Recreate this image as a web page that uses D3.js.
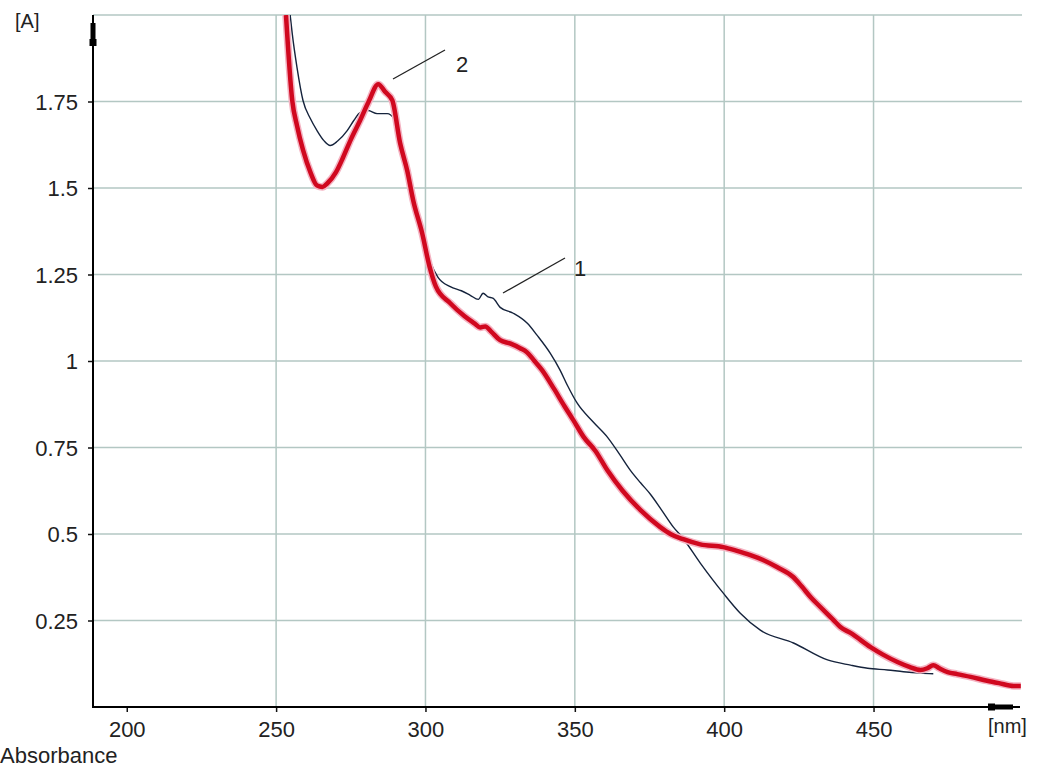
<!DOCTYPE html>
<html>
<head>
<meta charset="utf-8">
<script src="https://cdn.jsdelivr.net/npm/d3@7"></script>
<style>
  body { margin: 0; background: #fff; }
  text { font-family: "Liberation Sans", Arial, sans-serif; fill: #222; }
</style>
</head>
<body>
<svg width="1039" height="769"></svg>
<script>
const svg = d3.select("svg");

// Axis ticks
const xTicks = [200, 250, 300, 350, 400, 450];
const xGrid = [250, 300, 350, 400, 450];
const yTicks = [0.25, 0.5, 0.75, 1, 1.25, 1.5, 1.75];
const yTickLabels = ["0.25", "0.5", "0.75", "1", "1.25", "1.5", "1.75"];

// Spectrum 1 (thin dark line): wavelength [nm], absorbance
const nm1 = [254.7, 255.4, 257, 259, 261.5, 263.7, 266, 268.1, 270.5, 273.8, 276, 278.1, 280.8, 283.8, 287.2,
  289.5, 292, 294.5, 296.5, 299, 301.5, 304.2, 308.3, 312, 315, 317.7, 319.3, 320.8, 322.7, 325, 329.4, 334.1,
  337.4, 341.8, 345.1, 347.5, 350.8, 356, 360.9, 365, 368.6, 372, 375.3, 379, 383, 386, 392, 399.7, 405.4,
  412.1, 423.2, 434.6, 442.3, 448, 454.7, 460, 465.7, 470];
const abs1 = [2.0, 1.946, 1.848, 1.753, 1.70, 1.666, 1.637, 1.623, 1.635, 1.666, 1.695, 1.718, 1.724, 1.715, 1.715,
  1.70, 1.61, 1.53, 1.45, 1.36, 1.29, 1.242, 1.215, 1.203, 1.19, 1.178, 1.196, 1.186, 1.181, 1.155, 1.138, 1.109,
  1.074, 1.022, 0.973, 0.93, 0.878, 0.825, 0.78, 0.73, 0.684, 0.648, 0.615, 0.57, 0.52, 0.49, 0.416, 0.329, 0.271,
  0.222, 0.185, 0.136, 0.121, 0.112, 0.107, 0.102, 0.098, 0.096];

// Spectrum 2 (thick red line)
const nm2 = [253.3, 255.4, 257, 259, 261.5, 263.7, 265.5, 267.1, 270, 272.4, 275, 278.1, 281, 284.2, 286.5, 288.9,
  291.5, 293.9, 295.9, 298.9, 301.3, 303.5, 308.3, 313, 316.5, 318.3, 320, 322, 325, 328.5, 331.7, 334, 336.5,
  339.1, 343, 346.5, 349.5, 353, 356.9, 360.9, 366, 372, 378.6, 382, 386.3, 392, 399.7, 404, 408.8, 413,
  417.8, 423.2, 426, 428.9, 432.2, 436.6, 438.9, 442.3, 449, 453, 458, 462, 465.7, 468, 470, 472, 474.8,
  478, 482.5, 488, 492, 496.9, 499.3];
const abs2 = [2.0, 1.753, 1.68, 1.61, 1.545, 1.507, 1.503, 1.513, 1.545, 1.588, 1.64, 1.695, 1.75, 1.80, 1.778, 1.753,
  1.63, 1.55, 1.464, 1.369, 1.275, 1.215, 1.167, 1.13, 1.108, 1.097, 1.1, 1.085, 1.06, 1.05, 1.037, 1.025, 1.0,
  0.973, 0.92, 0.87, 0.829, 0.78, 0.74, 0.684, 0.625, 0.569, 0.52, 0.50, 0.485, 0.47, 0.462, 0.452, 0.439, 0.425,
  0.404, 0.375, 0.348, 0.318, 0.289, 0.251, 0.231, 0.214, 0.173, 0.152, 0.13, 0.116, 0.107, 0.112, 0.121, 0.112, 0.101,
  0.095, 0.087, 0.076, 0.069, 0.061, 0.061];

const plotLeft = 93, plotRight = 1022, plotTop = 15, plotBottom = 707;

const x = d3.scaleLinear().domain([188.7, 499.7]).range([plotLeft, plotRight]);
const y = d3.scaleLinear().domain([0, 2]).range([plotBottom, plotTop]);

const gridColor = "#b3c7c3";

// grid
svg.append("g")
  .selectAll("line")
  .data(xGrid)
  .enter()
  .append("line")
  .attr("x1", (d) => x(d)).attr("x2", (d) => x(d))
  .attr("y1", plotTop).attr("y2", plotBottom)
  .attr("stroke", gridColor)
  .attr("stroke-width", 1.5);

svg.append("g")
  .selectAll("line")
  .data(yTicks.concat([2]))
  .enter()
  .append("line")
  .attr("x1", plotLeft).attr("x2", plotRight)
  .attr("y1", (d) => y(d)).attr("y2", (d) => y(d))
  .attr("stroke", gridColor)
  .attr("stroke-width", 1.5);

// axes
const xAxis = d3.axisBottom(x)
  .tickValues(xTicks)
  .tickSize(5)
  .tickPadding(6);
const gx = svg.append("g")
  .attr("transform", `translate(0,${plotBottom})`)
  .call(xAxis);
gx.select(".domain").remove();
gx.selectAll("line").attr("stroke", "#111").attr("stroke-width", 1.5);
gx.selectAll("text")
  .style("font-size", "22px")
  .attr("dy", "0.85em");

const yAxis = d3.axisLeft(y)
  .tickValues(yTicks)
  .tickFormat((d, i) => yTickLabels[i])
  .tickSize(5)
  .tickPadding(10);
const gy = svg.append("g")
  .attr("transform", `translate(${plotLeft},0)`)
  .call(yAxis);
gy.select(".domain").remove();
gy.selectAll("line").attr("stroke", "#111").attr("stroke-width", 1.5);
gy.selectAll("text")
  .style("font-size", "22px")
  .attr("dy", "0.36em");

// axis lines with arrow marks
svg.append("line")
  .attr("x1", plotLeft).attr("x2", plotLeft)
  .attr("y1", plotTop).attr("y2", plotBottom + 1)
  .attr("stroke", "#000").attr("stroke-width", 2);
svg.append("rect")
  .attr("x", plotLeft - 2.5).attr("y", 23).attr("width", 5).attr("height", 22)
  .attr("fill", "#000");
svg.append("rect")
  .attr("x", plotLeft - 3.5).attr("y", 39).attr("width", 7).attr("height", 7)
  .attr("fill", "#000");
svg.append("line")
  .attr("x1", plotLeft - 1).attr("x2", 1020)
  .attr("y1", plotBottom).attr("y2", plotBottom)
  .attr("stroke", "#000").attr("stroke-width", 2);
svg.append("rect")
  .attr("x", 988).attr("y", plotBottom - 2.5).attr("width", 25).attr("height", 5)
  .attr("fill", "#000");
svg.append("rect")
  .attr("x", 988).attr("y", plotBottom - 3.5).attr("width", 7).attr("height", 7)
  .attr("fill", "#000");

// curves
svg.append("clipPath").attr("id", "plot")
  .append("rect")
  .attr("x", plotLeft).attr("y", plotTop)
  .attr("width", plotRight - plotLeft + 4).attr("height", plotBottom - plotTop);

const line = d3.line()
  .x((d) => x(d[0]))
  .y((d) => y(d[1]))
  .curve(d3.curveMonotoneX);

const series1 = nm1.map((d, i) => [d, abs1[i]]);
const series2 = nm2.map((d, i) => [d, abs2[i]]);

const plot = svg.append("g").attr("clip-path", "url(#plot)");

plot.append("path")
  .datum(series1)
  .attr("d", line)
  .attr("fill", "none")
  .attr("stroke", "#15233c")
  .attr("stroke-width", 1.4);

plot.append("path")
  .datum(series2)
  .attr("d", line)
  .attr("fill", "none")
  .attr("stroke", "#f4b3c2")
  .attr("stroke-width", 7.5)
  .attr("stroke-linejoin", "round");

plot.append("path")
  .datum(series2)
  .attr("d", line)
  .attr("fill", "none")
  .attr("stroke", "#d0081f")
  .attr("stroke-width", 4.5)
  .attr("stroke-linejoin", "round");

// annotations
svg.append("line")
  .attr("x1", 393).attr("y1", 79).attr("x2", 445).attr("y2", 50)
  .attr("stroke", "#222").attr("stroke-width", 1.3);
svg.append("text")
  .attr("x", 462).attr("y", 72)
  .attr("text-anchor", "middle")
  .style("font-size", "22px")
  .text("2");

svg.append("line")
  .attr("x1", 503).attr("y1", 293).attr("x2", 565).attr("y2", 258)
  .attr("stroke", "#222").attr("stroke-width", 1.3);
svg.append("text")
  .attr("x", 580).attr("y", 276)
  .attr("text-anchor", "middle")
  .style("font-size", "22px")
  .text("1");

// unit labels
svg.append("text")
  .attr("x", 15).attr("y", 28)
  .style("font-size", "20px")
  .text("[A]");
svg.append("text")
  .attr("x", 988).attr("y", 733)
  .style("font-size", "20px")
  .text("[nm]");
svg.append("text")
  .attr("x", 0).attr("y", 763)
  .style("font-size", "22px")
  .text("Absorbance");
</script>
</body>
</html>
